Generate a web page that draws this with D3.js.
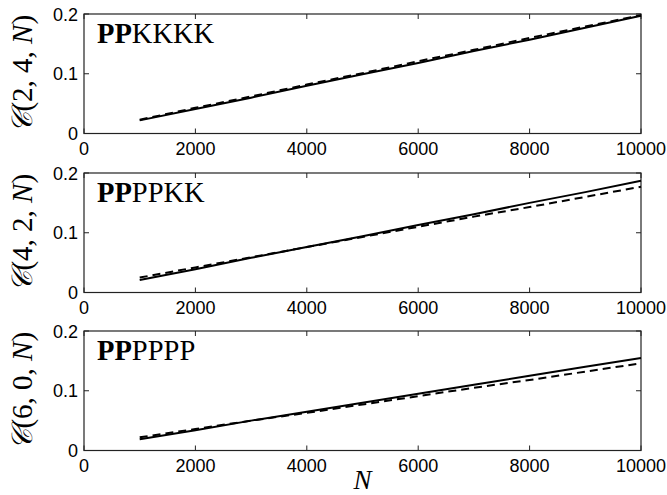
<!DOCTYPE html>
<html><head><meta charset="utf-8">
<script src="https://cdn.jsdelivr.net/npm/d3@7"></script>
<style>body{margin:0;background:#fff}svg{display:block}</style>
</head><body>
<script>
const N = [1000,2000,3000,4000,5000,6000,7000,8000,9000,10000];
const panelTitles = [["PP","KKKK"],["PP","PPKK"],["PP","PPPP"]];
const yArgs = ["2, 4, ", "4, 2, ", "6, 0, "];
const solid1 = [0.022,0.041,0.060,0.080,0.099,0.118,0.138,0.157,0.177,0.197];
const dashed1 = [0.023,0.043,0.062,0.082,0.101,0.121,0.140,0.160,0.179,0.198];
const solid2 = [0.021,0.039,0.058,0.076,0.094,0.113,0.131,0.150,0.168,0.187];
const dashed2 = [0.025,0.042,0.059,0.076,0.093,0.110,0.127,0.143,0.160,0.177];
const solid3 = [0.019,0.034,0.050,0.065,0.080,0.095,0.110,0.125,0.140,0.155];
const dashed3 = [0.022,0.036,0.050,0.063,0.077,0.091,0.105,0.118,0.132,0.146];
const xTicks = [0,2000,4000,6000,8000,10000];
const yTicks = [0,0.1,0.2];
const yTickLabels = ["0","0.1","0.2"];
const solids = [solid1,solid2,solid3];
const dasheds = [dashed1,dashed2,dashed3];

const W=667,H=495;
const svg=d3.select("body").append("svg").attr("width",W).attr("height",H);
const left=84,right=641,tops=[14,173,331],ph=119.5;
const x=d3.scaleLinear().domain([0,10000]).range([left,right]);
const tl=5;
const serif="'Liberation Serif', 'Times New Roman', serif";
tops.forEach((t,i)=>{
  const y=d3.scaleLinear().domain([0,0.2]).range([t+ph,t]);
  const g=svg.append("g");
  xTicks.forEach(v=>{
    g.append("line").attr("x1",x(v)).attr("x2",x(v)).attr("y1",t+ph).attr("y2",t+ph-tl).attr("stroke","#222");
    g.append("line").attr("x1",x(v)).attr("x2",x(v)).attr("y1",t).attr("y2",t+tl).attr("stroke","#222");
    g.append("text").attr("x",x(v)).attr("y",t+ph+21.5).attr("text-anchor","middle")
      .attr("font-family","'Liberation Sans', Arial, sans-serif").attr("font-size",18).text(d3.format("d")(v));
  });
  yTicks.forEach((v,k)=>{
    g.append("line").attr("x1",left).attr("x2",left+tl).attr("y1",y(v)).attr("y2",y(v)).attr("stroke","#222");
    g.append("line").attr("x1",right).attr("x2",right-tl).attr("y1",y(v)).attr("y2",y(v)).attr("stroke","#222");
    g.append("text").attr("x",left-6).attr("y",y(v)+6.5).attr("text-anchor","end")
      .attr("font-family","'Liberation Sans', Arial, sans-serif").attr("font-size",18).text(yTickLabels[k]);
  });
  g.append("rect").attr("x",left).attr("y",t).attr("width",right-left).attr("height",ph)
    .attr("fill","none").attr("stroke","#222").attr("stroke-width",1.2);
  const line=d3.line().x((d,j)=>x(N[j])).y(d=>y(d));
  g.append("path").attr("d",line(dasheds[i])).attr("fill","none").attr("stroke","#000")
    .attr("stroke-width",2).attr("stroke-dasharray","8,5");
  g.append("path").attr("d",line(solids[i])).attr("fill","none").attr("stroke","#000").attr("stroke-width",2);
  const tt=g.append("text").attr("x",97).attr("y",t+28.5).attr("font-family",serif).attr("font-size",28.5);
  tt.append("tspan").attr("font-weight","bold").text(panelTitles[i][0]);
  tt.append("tspan").text(panelTitles[i][1]);
  const yl=g.append("text").attr("transform",`translate(32,${t+ph/2}) rotate(-90)`).attr("text-anchor","middle")
    .attr("font-family",serif).attr("font-size",29);
  yl.append("tspan").attr("font-style","italic").text("𝒞");
  yl.append("tspan").text("(" + yArgs[i]);
  yl.append("tspan").attr("font-style","italic").text("N");
  yl.append("tspan").text(")");
});
svg.append("text").attr("x",(left+right)/2).attr("y",489).attr("text-anchor","middle")
  .attr("font-family",serif).attr("font-style","italic").attr("font-size",27).text("N");
</script>
</body></html>
